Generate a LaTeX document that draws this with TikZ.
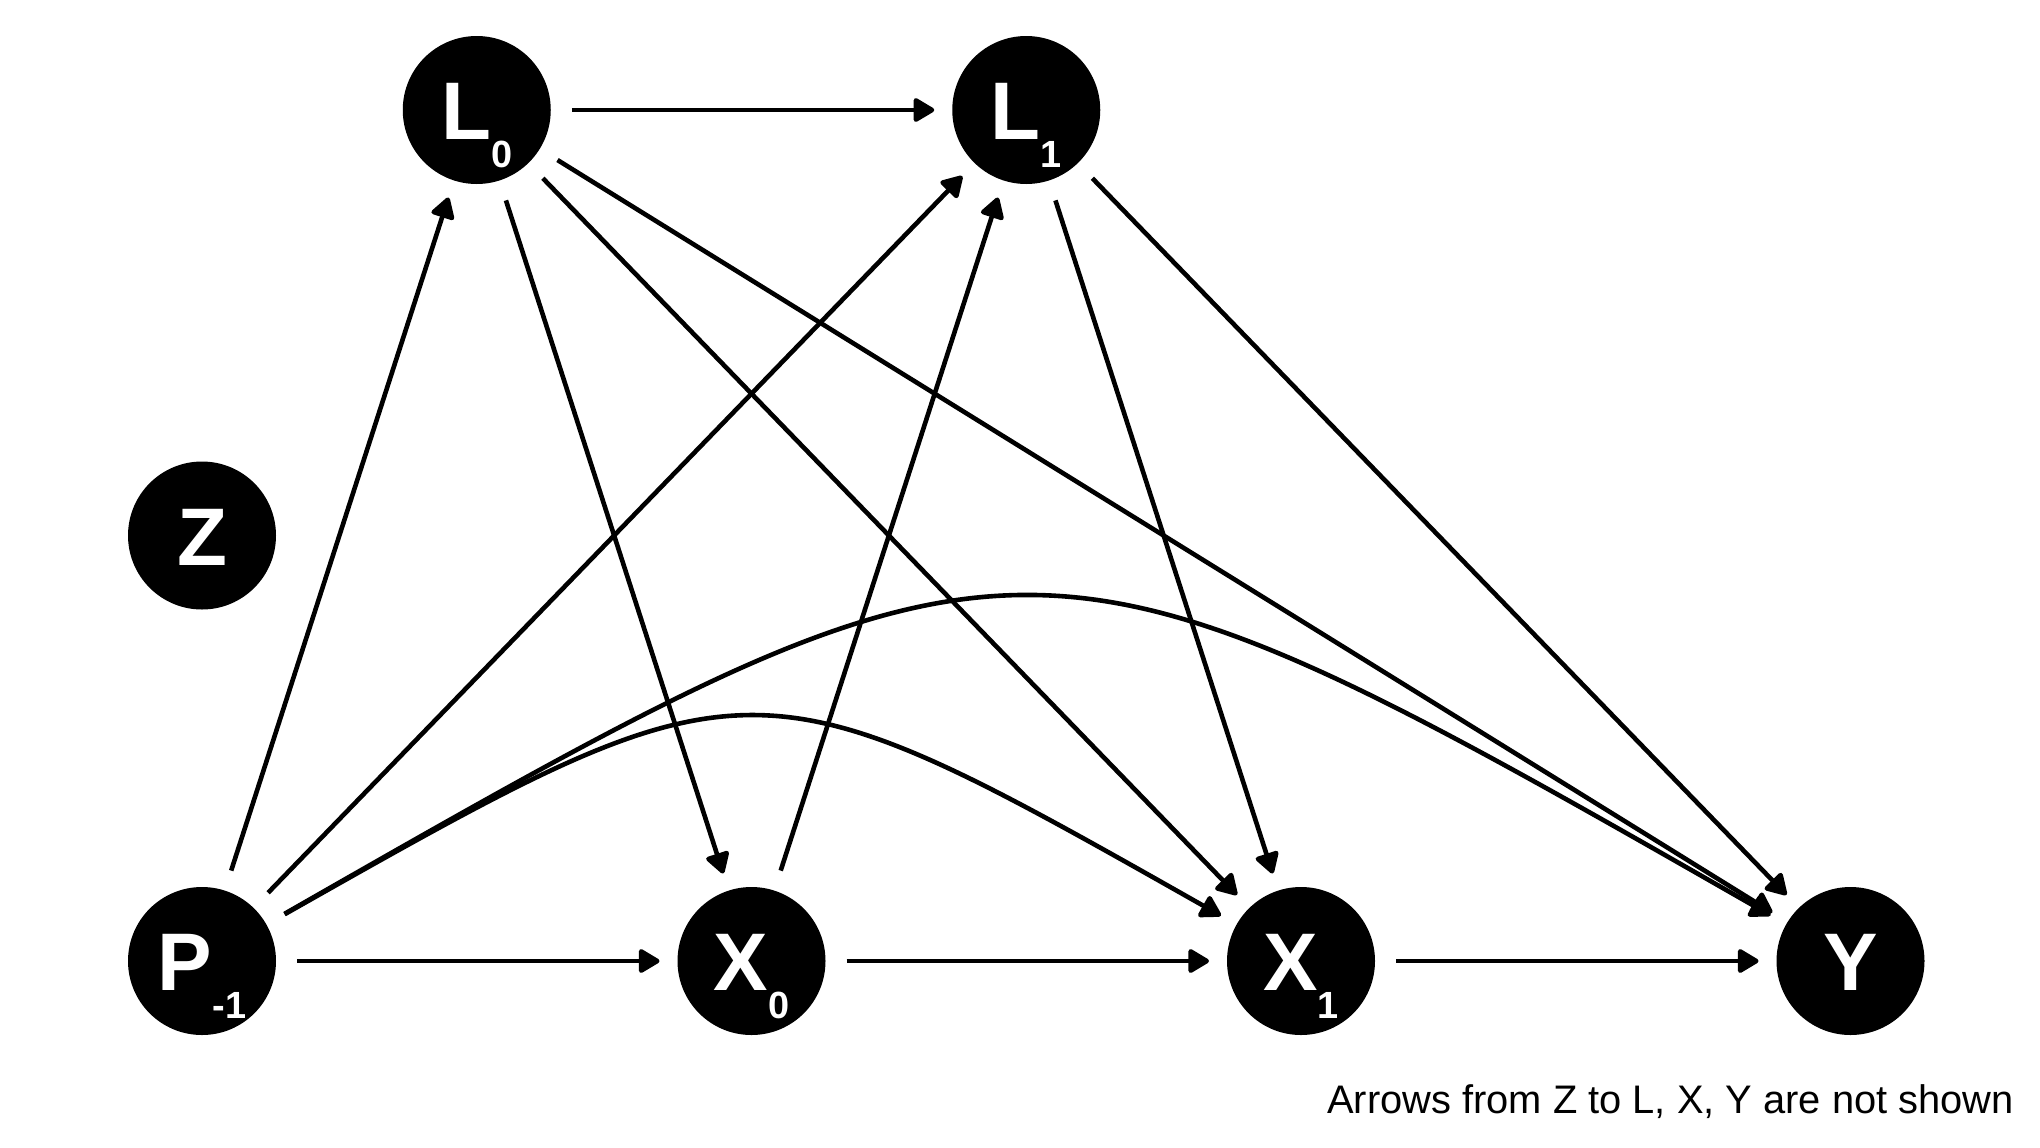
\documentclass[tikz,border=0pt]{standalone}
\usepackage{fontspec}
\setmainfont{Liberation Sans}
\usetikzlibrary{arrows.meta}
% node label: bold letter with a lowered index
\newcommand{\daglab}[2]{\fontsize{82}{82}\selectfont\bfseries #1\raisebox{-28bp}{\fontsize{38}{38}\selectfont #2}}
\begin{document}
\begin{tikzpicture}[x=1bp,y=-1bp,
  dagnode/.style={circle, fill=black, text=white, minimum size=148bp,
    inner sep=0pt, outer sep=0pt, text height=59bp, text depth=0pt},
  edge/.style={line width=4.6bp, -{Triangle[width=26bp,length=23bp,round]},
    shorten <=21bp, shorten >=18bp},
]
\useasboundingbox (0,0) rectangle (2040,1147);

% nodes
\node[dagnode] (L0) at (476.75,110) {\daglab{L}{0}};
\node[dagnode] (L1) at (1026.25,110) {\daglab{L}{1}};
\node[dagnode] (Z)  at (202,535.5) {\daglab{Z}{}};
\node[dagnode] (P)  at (202,961) {\daglab{P}{-1}};
\node[dagnode] (X0) at (751.5,961) {\daglab{X}{0}};
\node[dagnode] (X1) at (1301,961) {\daglab{X}{1}};
\node[dagnode] (Y)  at (1850.5,961) {\daglab{Y}{}};

% straight edges
\draw[edge] (L0) -- (L1);
\draw[edge] (P) -- (L0);
\draw[edge] (L0) -- (X0);
\draw[edge] (L0) -- (X1);
\draw[edge] (L0) -- (Y);
\draw[edge] (P) -- (L1);
\draw[edge] (X0) -- (L1);
\draw[edge] (L1) -- (X1);
\draw[edge] (L1) -- (Y);
\draw[edge] (P) -- (X0);
\draw[edge] (X0) -- (X1);
\draw[edge] (X1) -- (Y);

% arcs
\coordinate (cPX1) at (751.5,650);
\coordinate (cPY) at (1026.25,490);
\draw[edge] (P) .. controls (cPX1) .. (X1);
\draw[edge] (P) .. controls (cPY) .. (Y);

% caption
\node[anchor=base west, inner sep=0pt, font=\fontsize{40}{40}\selectfont] (note)
  at (1327,1113) {Arrows from Z to L, X, Y are not shown};
\end{tikzpicture}
\end{document}
